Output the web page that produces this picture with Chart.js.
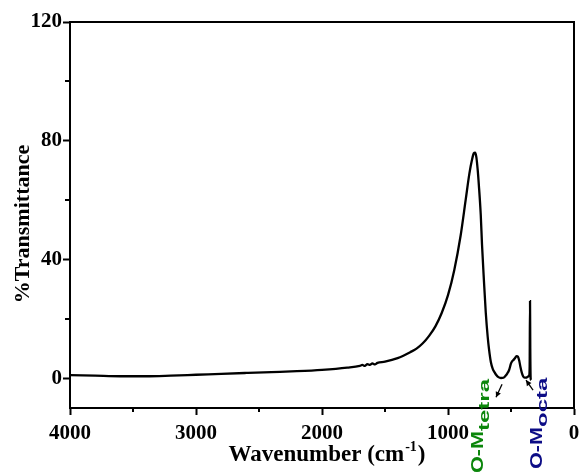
<!DOCTYPE html>
<html><head><meta charset="utf-8">
<script src="https://cdn.jsdelivr.net/npm/chart.js@4.4.1/dist/chart.umd.min.js"></script>
<style>html,body{margin:0;padding:0;background:#fff;}canvas{display:block;}</style>
</head><body>
<canvas id="c" width="579" height="474"></canvas>
<script>
// ---- data ----
const wavenumbers = [4000,3800,3600,3400,3200,3000,2800,2600,2400,2200,2000,1800,1700,1680,1660,1640,1620,1600,1580,1560,1500,1400,1300,1250,1200,1150,1100,1050,1000,950,900,860,830,810,795,785,775,765,755,740,730,715,700,685,675,660,645,630,615,600,580,560,545,530,515,500,490,480,465,455,445,435,425,415,405,395,380,365,356,352,349,347,344,340];
const transmittance = [1.1,0.9,0.7,0.7,0.9,1.2,1.5,1.8,2.1,2.4,2.85,3.6,4.2,4.5,4.2,4.8,4.5,5.0,4.7,5.2,5.6,6.8,8.8,10.0,11.8,14.3,17.5,22,28,36.5,48,60,69,73.5,75.8,76,74.5,70.5,65,55,45,33,22,14,10,5.5,3.2,2.0,1.0,0.4,0.1,0.2,0.8,1.6,2.8,5.0,5.8,6.2,7.0,7.5,7.3,6.0,3.8,2.0,0.8,0.3,0.2,0.6,1.0,4,26,10,0,-0.6];
const xTicks = [4000,3000,2000,1000,0];
const xMinorTicks = [3500,2500,1500,500];
const yTicks = [0,40,80,120];
const yMinorTicks = [20,60,100];
const xTitleText = 'Wavenumber (cm';
const xTitleSup = '-1';
const yTitleText = '%Transmittance';
const bandNames = ['O-M','O-M'];
const bandSubs = ['tetra','octa'];
const bandColors = ['#0b860b','#0c0c86'];

const serif = '"Liberation Serif","Times New Roman",serif';
const sans = '"Liberation Sans",Arial,sans-serif';

const decor = {
  id:'decor',
  afterDraw(chart){
    const {ctx, chartArea:a, scales:{x, y}} = chart;
    ctx.save();
    // frame top/right
    ctx.strokeStyle='#000'; ctx.lineWidth=2;
    ctx.beginPath();
    ctx.moveTo(a.left, a.top); ctx.lineTo(a.right, a.top); ctx.lineTo(a.right, a.bottom);
    ctx.stroke();
    // minor ticks
    ctx.lineWidth=2;
    ctx.beginPath();
    xMinorTicks.forEach(v=>{const px=Math.round(x.getPixelForValue(v)); ctx.moveTo(px,a.bottom); ctx.lineTo(px,a.bottom+4);});
    yMinorTicks.forEach(v=>{const py=Math.round(y.getPixelForValue(v)); ctx.moveTo(a.left,py); ctx.lineTo(a.left-5,py);});
    ctx.stroke();
    // x title
    ctx.fillStyle='#000';
    ctx.textBaseline='alphabetic';
    const fMain='bold 23px '+serif, fSup='bold 14px '+serif;
    ctx.font=fMain; const w1=ctx.measureText(xTitleText).width; const w3=ctx.measureText(')').width;
    ctx.font=fSup; const w2=ctx.measureText(xTitleSup).width;
    const tot=w1+w2+w3+2; let sx=(a.left+a.right)/2+5-tot/2; const by=461;
    ctx.font=fMain; ctx.textAlign='left'; ctx.fillText(xTitleText,sx,by);
    ctx.font=fSup; ctx.fillText(xTitleSup,sx+w1+1,by-10);
    ctx.font=fMain; ctx.fillText(')',sx+w1+w2+2,by);
    // y title
    ctx.save();
    ctx.translate(29,224); ctx.rotate(-Math.PI/2);
    ctx.font='bold 22px '+serif; ctx.textAlign='center';
    ctx.fillText(yTitleText,0,0);
    ctx.restore();
    // band labels
    const labelPos=[{w:722,y0:473,dx:6},{w:254,y0:469,dx:5}];
    bandNames.forEach((nm,i)=>{
      const p=labelPos[i];
      const bx=x.getPixelForValue(p.w);
      ctx.save();
      ctx.fillStyle=bandColors[i];
      ctx.translate(bx,p.y0); ctx.rotate(-Math.PI/2);
      ctx.textAlign='left';
      ctx.save(); ctx.scale(1.35,1);
      ctx.font='bold 16px '+sans; const wm=ctx.measureText(nm).width;
      ctx.fillText(nm,0,0); ctx.restore();
      ctx.save(); ctx.translate(wm*1.35,p.dx); ctx.scale(1.6,1);
      ctx.font='bold 15px '+sans; ctx.fillText(bandSubs[i],0,0); ctx.restore();
      ctx.restore();
    });
    // arrows
    const arrows=[{from:[571,-2.0],to:[619,-6.4]},{from:[325,-4.0],to:[381,-0.6]}];
    ctx.strokeStyle='#000'; ctx.fillStyle='#000'; ctx.lineWidth=1.3;
    arrows.forEach(ar=>{
      const x1=x.getPixelForValue(ar.from[0]), y1=y.getPixelForValue(ar.from[1]);
      const x2=x.getPixelForValue(ar.to[0]), y2=y.getPixelForValue(ar.to[1]);
      ctx.beginPath(); ctx.moveTo(x1,y1); ctx.lineTo(x2,y2); ctx.stroke();
      const ang=Math.atan2(y2-y1,x2-x1), L=5.5, W=2.8;
      ctx.beginPath(); ctx.moveTo(x2,y2);
      ctx.lineTo(x2-L*Math.cos(ang)+W*Math.sin(ang), y2-L*Math.sin(ang)-W*Math.cos(ang));
      ctx.lineTo(x2-L*Math.cos(ang)-W*Math.sin(ang), y2-L*Math.sin(ang)+W*Math.cos(ang));
      ctx.closePath(); ctx.fill();
    });
    ctx.restore();
  }
};

const tickFont={family:serif,size:21,weight:'bold'};
new Chart(document.getElementById('c'),{
  type:'line',
  data:{datasets:[{data:wavenumbers.map((w,i)=>({x:w,y:transmittance[i]})),borderColor:'#000',borderWidth:2.3,pointRadius:0,fill:false,cubicInterpolationMode:'monotone'}]},
  options:{
    responsive:false,animation:false,devicePixelRatio:1,
    layout:{padding:{top:22,right:5,left:0,bottom:0}},
    plugins:{legend:{display:false},tooltip:{enabled:false}},
    scales:{
      x:{type:'linear',reverse:true,min:0,max:4000,
        afterBuildTicks:s=>{s.ticks=xTicks.map(v=>({value:v}));},
        afterFit:s=>{s.height=66;s.paddingLeft=0;s.paddingRight=0;},
        grid:{drawOnChartArea:false,drawTicks:true,tickLength:7,tickColor:'#000',tickWidth:2},
        border:{display:true,color:'#000',width:2},
        ticks:{color:'#000',font:tickFont,padding:6,maxRotation:0,autoSkip:false,callback:v=>String(v)}},
      y:{type:'linear',min:-10,max:120,
        afterBuildTicks:s=>{s.ticks=yTicks.map(v=>({value:v}));},
        afterFit:s=>{s.width=70;s.paddingTop=0;s.paddingBottom=0;},
        grid:{drawOnChartArea:false,drawTicks:true,tickLength:7,tickColor:'#000',tickWidth:2},
        border:{display:true,color:'#000',width:2},
        ticks:{color:'#000',font:tickFont,padding:1,autoSkip:false,callback:v=>String(v)}}
    }
  },
  plugins:[decor]
});
</script>
</body></html>
